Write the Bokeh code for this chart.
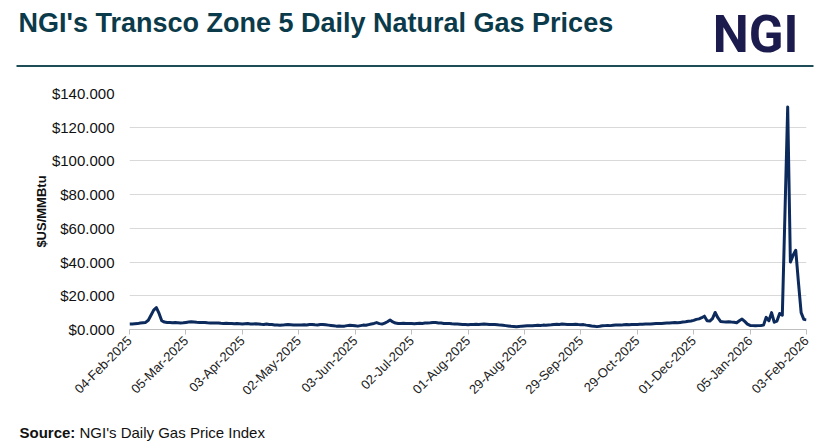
import math
from bokeh.plotting import figure
from bokeh.layouts import column
from bokeh.models import Range1d, FixedTicker, NumeralTickFormatter, ColumnDataSource
from bokeh.core.properties import value
from bokeh.embed import file_html
from bokeh.resources import INLINE

# ---- data (daily index values, $US/MMBtu, one per trading day) ----
prices = [
    # 04-Feb-2025 .. 04-Mar-2025
    3.2, 3.3, 3.4, 3.5, 3.8, 4.0, 4.2, 5.5, 8.5, 11.5, 13.0, 9.5, 5.2, 4.4, 4.2, 4.1, 4.0, 4.1, 4.0, 3.9, 4.0,
    # 05-Mar .. 02-Apr
    4.2, 4.4, 4.6, 4.5, 4.3, 4.2, 4.1, 4.2, 4.0, 3.9, 3.9, 3.8, 3.9, 3.7, 3.6, 3.7, 3.5, 3.6, 3.4, 3.5, 3.4,
    # 03-Apr .. 01-May
    3.3, 3.4, 3.5, 3.3, 3.2, 3.4, 3.3, 3.1, 3.0, 3.2, 3.0, 2.9, 2.7, 2.6, 2.5, 2.6, 2.8, 2.9, 2.8, 2.7, 2.6,
    # 02-May .. 02-Jun
    2.6, 2.7, 2.8, 2.7, 2.9, 3.0, 2.8, 2.7, 2.9, 3.0, 2.8, 2.6, 2.4, 2.2, 2.0, 2.1, 1.9, 2.0, 2.3, 2.5, 2.4,
    # 03-Jun .. 01-Jul
    2.2, 2.0, 2.3, 2.6, 2.5, 2.9, 3.3, 3.6, 4.1, 3.5, 3.2, 3.8, 4.6, 5.6, 4.5, 3.8, 3.6, 3.5, 3.7, 3.6, 3.5,
    # 02-Jul .. 31-Jul
    3.5, 3.4, 3.6, 3.7, 3.6, 3.8, 3.9, 4.0, 4.2, 4.1, 3.9, 3.8, 3.6, 3.5, 3.6, 3.4, 3.3, 3.2, 3.1, 3.0, 2.9,
    # 01-Aug .. 28-Aug
    2.8, 2.9, 3.0, 3.1, 3.0, 3.1, 3.2, 3.1, 3.0, 3.0, 2.9, 2.8, 2.6, 2.5, 2.3, 2.1, 1.9, 1.8, 1.6, 1.8, 2.0,
    # 29-Aug .. 26-Sep
    2.1, 2.2, 2.3, 2.2, 2.4, 2.5, 2.4, 2.6, 2.5, 2.7, 2.8, 3.0, 3.1, 3.0, 3.2, 3.1, 3.0, 2.9, 3.0, 3.1, 2.9,
    # 29-Sep .. 28-Oct
    2.8, 2.9, 2.6, 2.4, 2.1, 1.9, 1.7, 1.9, 2.2, 2.3, 2.4, 2.3, 2.5, 2.6, 2.7, 2.6, 2.8, 2.9, 2.8, 3.0, 3.0,
    # 29-Oct .. 28-Nov
    3.0, 3.1, 3.1, 3.2, 3.3, 3.2, 3.4, 3.5, 3.6, 3.5, 3.7, 3.9, 3.8, 4.0, 4.1, 4.0, 4.2, 4.4, 4.6, 4.9, 5.1,
    # 01-Dec .. 02-Jan
    5.4, 6.0, 6.3, 7.0, 7.9, 5.2, 5.0, 6.5, 10.1, 7.0, 4.8, 4.6, 4.5, 4.6, 4.4, 4.3, 4.0, 5.2, 6.2, 4.8, 3.2,
    # 05-Jan-2026 .. 03-Feb-2026
    2.4, 2.3, 2.2, 2.3, 2.4, 2.6, 7.2, 5.2, 10.0, 4.3, 5.0, 9.5, 8.5, 70.0, 132.0, 40.0, 44.0, 47.0, 28.0, 10.0, 6.0, 5.7,
]
day_index = list(range(len(prices)))

tick_positions = [0, 21, 42, 63, 84, 105, 126, 147, 168, 189, 210, 231, 252]
tick_labels = ["04-Feb-2025", "05-Mar-2025", "03-Apr-2025", "02-May-2025", "03-Jun-2025",
               "02-Jul-2025", "01-Aug-2025", "29-Aug-2025", "29-Sep-2025", "29-Oct-2025",
               "01-Dec-2025", "05-Jan-2026", "03-Feb-2026"]
y_ticks = [0, 20, 40, 60, 80, 100, 120, 140]

title_text = "NGI's Transco Zone 5 Daily Natural Gas Prices"
logo_text = "NGI"
y_label = "$US/MMBtu"
source_bold = "Source:"
source_rest = "NGI's Daily Gas Price Index"

FONT = "Liberation Sans"
W = 828


def blank(height):
    f = figure(width=W, height=height, output_backend="svg", toolbar_location=None,
               x_range=Range1d(0, W), y_range=Range1d(0, height),
               x_axis_type=None, y_axis_type=None, min_border=0)
    f.grid.visible = False
    f.outline_line_color = None
    f.background_fill_color = "white"
    f.border_fill_color = "white"
    f.frame_align = False
    return f


# ---- header ----
HEAD_H = 70
head = blank(HEAD_H)
head.text(x=[18], y=[HEAD_H - 22], text=[title_text], text_font=value(FONT),
          text_font_style="bold", text_font_size="27px", text_color="#0b3b4a",
          text_baseline="middle", text_align="left")
head.text(x=[755], y=[HEAD_H - 34], text=[logo_text], text_font=value("Roboto"),
          text_font_style="bold", text_font_size="51px", text_color="#1c1b4d",
          text_baseline="middle", text_align="center")
head.segment(x0=[16], y0=[HEAD_H - 65.5], x1=[813], y1=[HEAD_H - 65.5],
             line_color="#1e4d58", line_width=2)

# ---- main chart ----
p = figure(width=W, height=346, output_backend="svg", toolbar_location=None,
           x_range=Range1d(0, 252), y_range=Range1d(0, 140),
           min_border_left=129, min_border_right=22, min_border_top=23, min_border_bottom=87)
p.frame_align = False
p.outline_line_color = None
p.background_fill_color = "white"
p.border_fill_color = "white"

src = ColumnDataSource(dict(x=day_index, y=prices))
p.line("x", "y", source=src, line_color="#0c2a5c", line_width=3, line_join="round")

p.xgrid.grid_line_color = None
p.ygrid.ticker = FixedTicker(ticks=y_ticks)
p.ygrid.grid_line_color = "#d9d9d9"
p.ygrid.grid_line_width = 1

xa = p.xaxis[0]
xa.ticker = FixedTicker(ticks=tick_positions)
xa.major_label_overrides = {t: l for t, l in zip(tick_positions, tick_labels)}
xa.major_label_orientation = math.pi / 4
xa.major_label_text_font = FONT
xa.major_label_text_font_size = "13px"
xa.major_label_text_color = "#222222"
xa.major_label_standoff = 4
xa.axis_line_color = "#bfbfbf"
xa.major_tick_line_color = "#bfbfbf"
xa.major_tick_out = 5
xa.major_tick_in = 0
xa.minor_tick_line_color = None

ya = p.yaxis[0]
ya.ticker = FixedTicker(ticks=y_ticks)
ya.formatter = NumeralTickFormatter(format="$0.000")
ya.major_label_text_font = FONT
ya.major_label_text_font_size = "15px"
ya.major_label_text_color = "#111111"
ya.major_label_standoff = 9
ya.axis_line_color = None
ya.major_tick_line_color = None
ya.minor_tick_line_color = None
ya.axis_label = y_label
ya.axis_label_text_font = FONT
ya.axis_label_text_font_style = "bold"
ya.axis_label_text_font_size = "13px"
ya.axis_label_text_color = "#111111"
ya.axis_label_standoff = 0

# ---- footer ----
FOOT_H = 31
foot = blank(FOOT_H)
foot.text(x=[19], y=[FOOT_H - 16], text=[source_bold], text_font=value(FONT),
          text_font_style="bold", text_font_size="15px", text_color="#111111",
          text_baseline="middle", text_align="left")
foot.text(x=[79], y=[FOOT_H - 16], text=[source_rest], text_font=value(FONT),
          text_font_size="15px", text_color="#111111",
          text_baseline="middle", text_align="left")

layout = column(head, p, foot, spacing=0)
open("out.html", "w").write(file_html(layout, INLINE))
